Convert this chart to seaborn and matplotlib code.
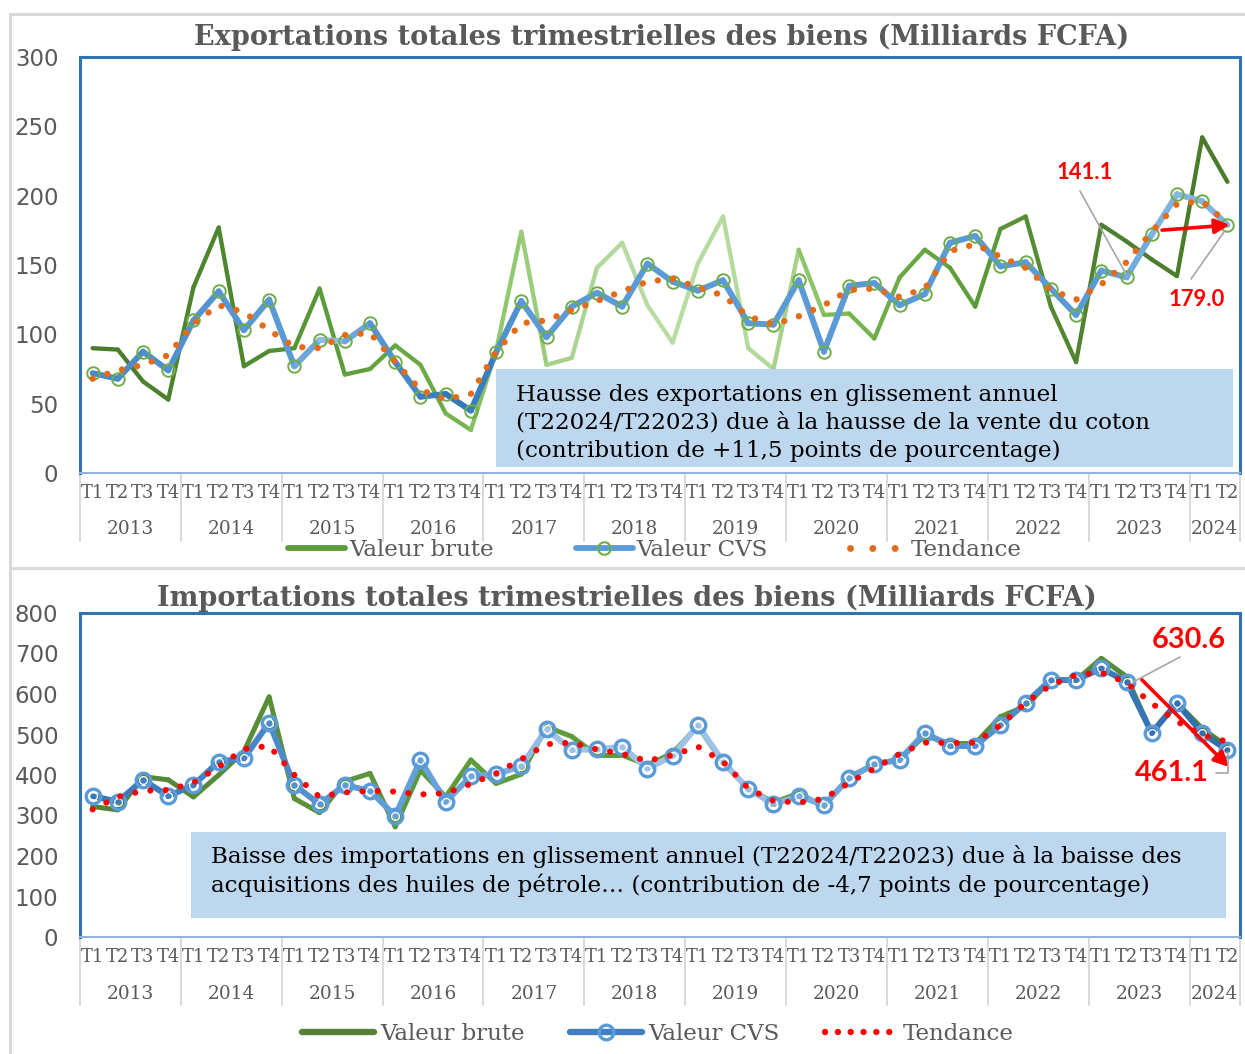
import numpy as np
import pandas as pd
import matplotlib
matplotlib.use("Agg")
import matplotlib.pyplot as plt
import seaborn as sns
from matplotlib.lines import Line2D
from matplotlib.patches import Rectangle
from matplotlib.colors import to_rgb

# ---------------- DATA ----------------
years = [str(y) for y in range(2013, 2025)]
quarters = ["T1", "T2", "T3", "T4"] * 11 + ["T1", "T2"]

exp_brute = [90, 89, 66, 53, 134, 177, 77, 88, 90, 133, 71, 75, 92, 78, 43, 31,
             88, 174, 78, 83, 148, 166, 121, 94, 151, 185, 90, 75, 161, 114, 115, 97,
             141, 161, 148, 120, 176, 185, 120, 80, 179, 167, 154, 142, 242, 210]
exp_cvs = [72, 68, 87.5, 74, 110, 131, 103, 125, 77, 96, 95, 108, 80, 55, 57, 45,
           87, 124, 98, 120, 130, 120, 151, 138, 131.5, 139, 108, 107, 139, 87.5, 135, 137,
           121, 129, 166, 171, 149, 152, 133, 114, 146, 141.1, 172, 201, 196, 179.0]
exp_trend = [68, 74, 78, 85, 108, 121, 116, 103, 91, 90, 99.5, 101, 80, 60, 53, 57,
             87.5, 108, 110, 117.5, 124, 131, 138, 140, 134, 128, 113, 107, 113, 121, 132, 133,
             127, 133, 160, 165, 156, 148, 132, 125, 136, 152, 174, 194, 196, 180]

imp_brute = [322, 314, 396, 388, 346, 400, 458, 593, 342, 307, 384, 404, 272, 412, 346, 437,
             379, 402, 519, 495, 449, 449, 425, 454, 521, 429, 367, 332, 355, 322, 396, 425,
             440, 497, 478, 478, 544, 570, 634, 634, 688, 643, 504, 578, 515, 470]
imp_cvs = [348, 334, 388, 348, 375, 433, 441, 529, 375, 328, 375, 361, 299, 437, 334, 397,
           402, 422, 513, 462, 463, 470, 416, 447, 523, 433, 365, 328, 348, 326, 392, 427,
           437, 504, 472, 472, 523, 578, 635, 635, 663, 630.6, 504, 578, 504, 461.1]
imp_trend = [315, 346, 361, 363, 381, 420, 464, 472, 400, 346, 357, 361, 359, 352, 355, 378,
             404, 439, 476, 480, 463, 452, 435, 449, 470, 433, 367, 336, 332, 341, 381, 416,
             452, 480, 479, 480, 523, 578, 622, 647, 653, 628, 577, 532, 499, 482]

series_names = ["Valeur brute", "Valeur CVS", "Tendance"]
title_exp = "Exportations totales trimestrielles des biens (Milliards FCFA)"
title_imp = "Importations totales trimestrielles des biens (Milliards FCFA)"
note_exp = ["Hausse des exportations en glissement annuel",
            "(T22024/T22023) due à la hausse de la vente du coton",
            "(contribution de +11,5 points de pourcentage)"]
note_imp = ["Baisse des importations en glissement annuel (T22024/T22023) due à la baisse des",
            "acquisitions des huiles de pétrole… (contribution de -4,7 points de pourcentage)"]

# ---------------- STYLE ----------------
sns.set_theme(style="white")
plt.rcParams["font.family"] = ["DejaVu Serif", "DejaVu Sans"]

W, H = 1245, 1054
def fx(px): return px / W
def fy(py): return 1 - py / H

GREY = "#595959"
pos = np.arange(len(quarters))

fig = plt.figure(figsize=(W / 100, H / 100), dpi=100, facecolor="white")
ax1 = fig.add_axes([fx(80), fy(473), (1240 - 80) / W, (473 - 57) / H])
ax2 = fig.add_axes([fx(80), fy(937), (1240 - 80) / W, (937 - 613) / H])


def interp_colors(stops, n):
    idx = np.array([s[0] for s in stops], float)
    cols = np.array([to_rgb(s[1]) for s in stops])
    t = np.arange(n) + 0.5
    return [tuple(np.interp(ti, idx, cols[:, k]) for k in range(3)) for ti in t]


def grad_line(ax, x, y, stops, lw, z):
    cols = interp_colors(stops, len(x) - 1)
    for i in range(len(x) - 1):
        seg = pd.DataFrame({"x": x[i:i + 2], "y": y[i:i + 2]})
        sns.lineplot(data=seg, x="x", y="y", color=cols[i], lw=lw, ax=ax, zorder=z,
                     solid_capstyle="round", solid_joinstyle="round",
                     errorbar=None, sort=False, legend=False)


# ---- top chart ----
brute_stops_top = [(0, "#4b7a2b"), (7, "#4f8a30"), (9, "#5a9a38"), (14, "#70ad47"),
                   (16, "#8cc66a"), (19, "#a9d28f"), (22, "#b9dca4"), (27, "#b3d99b"),
                   (29, "#82be5a"), (32, "#6aaa45"), (36, "#5a9637"), (40, "#4e7f2e"),
                   (45, "#4a7a2a")]
cvs_stops_top = [(0, "#4a89c8"), (8, "#5b9bd5"), (9.5, "#8fbde8"), (11, "#5b9bd5"),
                 (13, "#3f80c0"), (15, "#2e75b6"), (17, "#5b9bd5"), (40, "#5b9bd5"),
                 (43, "#86b8e4"), (45, "#7fb2e0")]
grad_line(ax1, pos, exp_brute, brute_stops_top, 3.1, 2)
grad_line(ax1, pos, exp_cvs, cvs_stops_top, 4.3, 3)
sns.lineplot(x=pos, y=exp_cvs, linestyle="none", marker="o", markersize=9,
             markerfacecolor="none", markeredgecolor="#70ad47", markeredgewidth=1.4,
             ax=ax1, zorder=3.5, errorbar=None)
sns.lineplot(x=pos, y=exp_trend, color="#e36c1b", lw=4.6, linestyle=(0, (0.01, 2.4)),
             dash_capstyle="round", ax=ax1, zorder=4, errorbar=None)

# ---- bottom chart ----
brute_stops_bot = [(0, "#548235"), (15, "#5e9c3c"), (30, "#5e9c3c"), (45, "#548235")]
cvs_stops_bot = [(0, "#3a78b5"), (7, "#4a86c5"), (10, "#5b9bd5"), (16, "#6fa8dc"),
                 (18, "#9dc3e6"), (26, "#9dc3e6"), (29, "#6fa8dc"), (33, "#5b9bd5"),
                 (38, "#4a86c5"), (42, "#3372b0"), (45, "#2f6ea8")]
grad_line(ax2, pos, imp_brute, brute_stops_bot, 3.6, 2)
grad_line(ax2, pos, imp_cvs, cvs_stops_bot, 4.3, 3)
sns.lineplot(x=pos, y=imp_cvs, linestyle="none", marker="o", markersize=10.5,
             markerfacecolor="none", markeredgecolor="#5b9bd5", markeredgewidth=2.4,
             ax=ax2, zorder=3.5, errorbar=None)
sns.lineplot(x=pos, y=imp_cvs, linestyle="none", marker="o", markersize=5.6,
             markerfacecolor="none", markeredgecolor="white", markeredgewidth=0.9,
             ax=ax2, zorder=3.6, errorbar=None)
sns.lineplot(x=pos, y=imp_trend, color="#ff0000", lw=4.4, linestyle=(0, (0.01, 2.5)),
             dash_capstyle="round", ax=ax2, zorder=4, errorbar=None)

# ---- axes styling ----
year_centers = [1.5 + 4 * i for i in range(11)] + [44.5]
bounds = [-0.5 + 4 * i for i in range(12)] + [45.5]

def style_axis(ax, ylim, yticks, ax_h, year_off, sep_len):
    ax.set_xlim(-0.5, 45.5)
    ax.set_ylim(*ylim)
    ax.set_yticks(yticks)
    ax.set_yticklabels([str(v) for v in yticks], fontfamily="DejaVu Sans",
                       fontsize=16.5, color=GREY)
    ax.set_xticks(pos)
    ax.set_xticklabels(quarters, fontfamily="DejaVu Serif", fontsize=13, color=GREY)
    ax.tick_params(axis="x", length=0, pad=8)
    ax.tick_params(axis="y", length=0, pad=15.5)
    ax.set_xlabel("")
    ax.set_ylabel("")
    ax.grid(False)
    for s in ["left", "top", "right"]:
        ax.spines[s].set_color("#2e75b6")
        ax.spines[s].set_linewidth(2.2)
    ax.spines["bottom"].set_color("#8fb4dc")
    ax.spines["bottom"].set_linewidth(1.5)
    tr = ax.get_xaxis_transform()
    for yc, yl in zip(year_centers, years):
        ax.text(yc, -year_off / ax_h, yl, transform=tr, ha="center", va="center",
                fontfamily="DejaVu Serif", fontsize=13.3, color=GREY)
    for b in bounds:
        ax.plot([b, b], [0, -sep_len / ax_h], transform=tr, clip_on=False,
                color="#d9d9d9", lw=1.4, zorder=1)

style_axis(ax1, (0, 300), list(range(0, 301, 50)), 416, 56, 68)
style_axis(ax2, (0, 800), list(range(0, 801, 100)), 324, 57, 68)

# ---- titles ----
fig.text(fx(662), fy(37), title_exp, ha="center", va="center", fontsize=19.5,
         fontweight="bold", fontfamily="DejaVu Serif", color=GREY)
fig.text(fx(627), fy(598), title_imp, ha="center", va="center", fontsize=19.5,
         fontweight="bold", fontfamily="DejaVu Serif", color=GREY)

# ---- figure frame lines ----
for (x0, y0, x1, y1) in [(10, 14, 10, 1054), (10, 14, 1245, 14), (10, 568, 1245, 568)]:
    fig.add_artist(Line2D([fx(x0), fx(x1)], [fy(y0), fy(y1)], transform=fig.transFigure,
                          color="#d9d9d9", lw=2.2))

# ---- note boxes ----
fig.add_artist(Rectangle((fx(496), fy(467)), (1233 - 496) / W, (467 - 369) / H,
                         transform=fig.transFigure, facecolor="#bdd7ee",
                         edgecolor="none", zorder=5))
for line, yy in zip(note_exp, [395, 422, 451]):
    t = fig.text(fx(516), fy(yy), line, ha="left", va="center", fontsize=16.6,
                 fontfamily="DejaVu Serif", color="black")
    t.set_zorder(6)
fig.add_artist(Rectangle((fx(191), fy(918)), (1226 - 191) / W, (918 - 832) / H,
                         transform=fig.transFigure, facecolor="#bdd7ee",
                         edgecolor="none", zorder=5))
for line, yy in zip(note_imp, [857, 885]):
    t = fig.text(fx(211), fy(yy), line, ha="left", va="center", fontsize=16.6,
                 fontfamily="DejaVu Serif", color="black")
    t.set_zorder(6)

# ---- annotations ----
def leader(pts):
    xs = [fx(p[0]) for p in pts]
    ys = [fy(p[1]) for p in pts]
    fig.add_artist(Line2D(xs, ys, transform=fig.transFigure, color="#a6a6a6", lw=1.2, zorder=7))

fig.text(fx(1085), fy(173), f"{exp_cvs[41]:.1f}", ha="center", va="center", color="red",
         fontsize=15.8, fontweight="bold", fontfamily="Lato", zorder=7)
leader([(1080, 191), (1126, 274)])
fig.text(fx(1197), fy(300), f"{exp_cvs[45]:.1f}", ha="center", va="center", color="red",
         fontsize=15.8, fontweight="bold", fontfamily="Lato", zorder=7)
leader([(1191, 279), (1224, 232)])
ax1.annotate("", xy=(45.2, 179), xytext=(42.3, 175),
             arrowprops=dict(arrowstyle="-|>", color="red", lw=2.6, mutation_scale=22),
             zorder=8)

fig.text(fx(1189), fy(640), f"{imp_cvs[41]:.1f}", ha="center", va="center", color="red",
         fontsize=20.8, fontweight="bold", fontfamily="Lato", zorder=7)
leader([(1180, 657), (1133, 682)])
fig.text(fx(1172), fy(773), f"{imp_cvs[45]:.1f}", ha="center", va="center", color="red",
         fontsize=20.8, fontweight="bold", fontfamily="Lato", zorder=7)
leader([(1216, 773), (1228, 773), (1228, 752)])
ax2.annotate("", xy=(45.14, 415), xytext=(41.53, 640),
             arrowprops=dict(arrowstyle="-|>", color="red", lw=2.6, mutation_scale=22),
             zorder=8)

# ---- legends ----
lp = dict(family="DejaVu Serif", size=16.5)
h_top = [Line2D([], [], color="#5b9a3a", lw=4.2, solid_capstyle="round"),
         Line2D([], [], color="#5b9bd5", lw=4.2, marker="o", markersize=9,
                markerfacecolor="none", markeredgecolor="#70ad47", markeredgewidth=1.5),
         Line2D([], [], color="#e36c1b", lw=5, linestyle=(0, (0.01, 3.2)),
                dash_capstyle="round")]
leg1 = fig.legend(h_top, series_names, loc="center", bbox_to_anchor=(fx(655), fy(550)),
                  ncol=3, frameon=False, prop=lp, handlelength=2.5, handletextpad=0.15,
                  columnspacing=3.6, borderaxespad=0)
h_bot = [Line2D([], [], color="#548235", lw=4.6, solid_capstyle="round"),
         Line2D([], [], color="#3f7fbf", lw=4.6, marker="o", markersize=10.5,
                markerfacecolor="none", markeredgecolor="#5b9bd5", markeredgewidth=2.4),
         Line2D([], [], color="#ff0000", lw=4.6, linestyle=(0, (0.01, 2.0)),
                dash_capstyle="round")]
leg2 = fig.legend(h_bot, series_names, loc="center", bbox_to_anchor=(fx(658), fy(1034)),
                  ncol=3, frameon=False, prop=lp, handlelength=3.15, handletextpad=0.25,
                  columnspacing=2.0, borderaxespad=0)
for leg in (leg1, leg2):
    for t in leg.get_texts():
        t.set_color(GREY)

fig.savefig("out.png", dpi=100, facecolor="white")
